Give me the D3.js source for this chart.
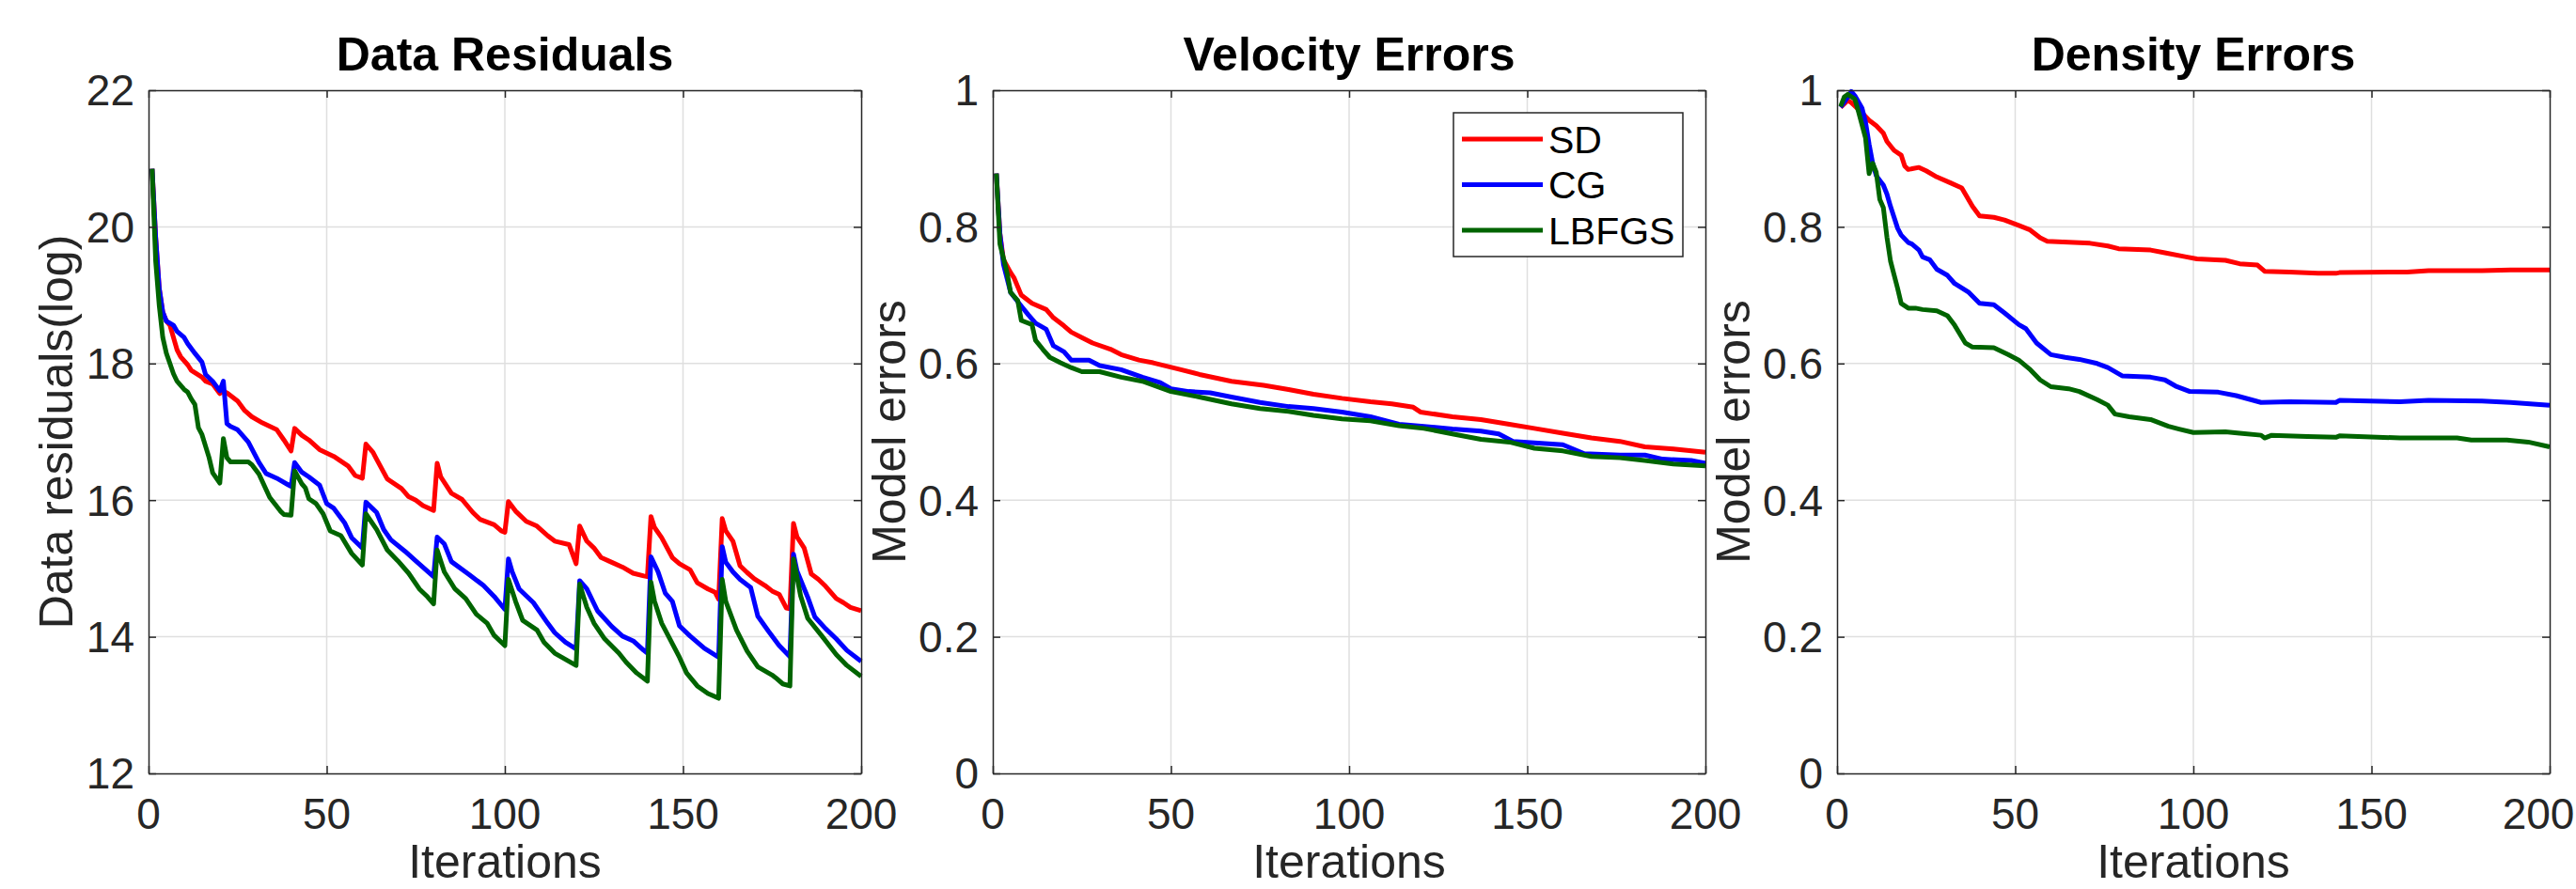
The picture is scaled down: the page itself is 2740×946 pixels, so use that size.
<!DOCTYPE html>
<html><head><meta charset="utf-8">
<script src="https://cdn.jsdelivr.net/npm/d3@7"></script>
<style>body{margin:0;background:#fff}svg{display:block}</style>
</head><body>
<svg id="chart" width="2740" height="946"></svg>
<script>
// ---------- DATA ----------
const seriesNames = ["SD", "CG", "LBFGS"];
const seriesColors = ["#ff0000", "#0000ff", "#006400"];
const panelTitles = ["Data Residuals", "Velocity Errors", "Density Errors"];
const yLabels = ["Data residuals(log)", "Model errors", "Model errors"];
const xLabel = "Iterations";
const xTicks = [0, 50, 100, 150, 200];
const xTickLabels = ["0", "50", "100", "150", "200"];
const resTicks = [12, 14, 16, 18, 20, 22];
const resTickLabels = ["12", "14", "16", "18", "20", "22"];
const errTicks = [0, 0.2, 0.4, 0.6, 0.8, 1];
const errTickLabels = ["0", "0.2", "0.4", "0.6", "0.8", "1"];

// Data residuals
const resSD_it = [1,2,3,4,5,6,8,9,11,12,15,16,18,19,20,21,22,25,27,29,32,36,38,40,41,43,45,48,52,56,58,60,61,63,64,67,71,73,75,77,80,81,82,85,88,91,93,97,99,100,101,103,106,109,112,114,118,120,121,123,125,127,130,133,136,139,140,141,142,144,147,149,152,154,157,159,160,161,162,164,166,168,170,173,175,177,179,180,181,182,184,186,188,190,193,195,197,200];
const resSD_val = [20.85,19.85,19.1,18.75,18.62,18.56,18.2,18.1,17.98,17.9,17.8,17.74,17.7,17.63,17.56,17.6,17.57,17.45,17.31,17.22,17.13,17.03,16.88,16.72,17.05,16.95,16.88,16.74,16.64,16.5,16.36,16.32,16.82,16.7,16.6,16.31,16.17,16.05,16.0,15.92,15.85,16.54,16.34,16.1,16.01,15.82,15.72,15.64,15.55,15.53,15.98,15.84,15.69,15.62,15.48,15.4,15.35,15.07,15.62,15.4,15.3,15.16,15.09,15.02,14.93,14.89,14.88,15.76,15.6,15.45,15.16,15.07,14.98,14.79,14.7,14.65,14.55,15.73,15.55,15.4,15.04,14.94,14.85,14.75,14.67,14.62,14.42,14.41,15.66,15.46,15.3,14.92,14.84,14.74,14.56,14.5,14.43,14.38];
const resCG_it = [1,2,3,4,5,7,8,10,11,13,15,16,18,20,21,22,23,25,28,31,33,36,39,40,41,43,45,48,50,52,55,57,60,61,63,64,66,68,72,75,80,81,83,85,90,94,97,100,101,102,104,108,112,114,117,120,121,123,126,130,133,136,139,140,141,143,145,147,149,152,156,160,161,162,164,166,169,171,174,177,180,181,182,185,187,190,193,196,200];
const resCG_val = [20.85,19.85,19.1,18.75,18.62,18.56,18.47,18.38,18.29,18.15,18.02,17.84,17.74,17.6,17.74,17.12,17.08,17.03,16.85,16.55,16.39,16.32,16.23,16.2,16.55,16.41,16.34,16.22,15.95,15.88,15.67,15.45,15.3,15.97,15.87,15.82,15.57,15.42,15.25,15.11,14.88,15.46,15.36,15.1,14.91,14.75,14.59,14.4,15.14,14.96,14.7,14.5,14.2,14.06,13.92,13.82,14.82,14.7,14.38,14.15,14.01,13.94,13.8,13.76,15.17,14.95,14.64,14.52,14.16,14.01,13.83,13.7,15.32,15.09,14.95,14.84,14.72,14.3,14.08,13.87,13.71,15.21,14.96,14.58,14.29,14.12,13.97,13.8,13.64];
const resLB_it = [1,2,3,4,5,7,8,10,11,12,13,14,15,17,18,20,21,22,23,28,29,31,34,37,38,40,41,43,44,45,47,49,51,54,57,60,61,64,67,70,73,76,78,80,81,83,86,89,92,95,97,100,101,103,105,109,111,114,117,120,121,123,125,128,132,134,137,140,141,142,144,146,149,151,154,157,160,161,162,165,168,171,175,176,178,180,181,183,185,189,193,196,200];
const resLB_val = [20.85,19.5,18.85,18.38,18.15,17.85,17.74,17.62,17.58,17.48,17.4,17.06,16.96,16.62,16.4,16.25,16.9,16.62,16.56,16.56,16.52,16.38,16.04,15.84,15.79,15.78,16.43,16.24,16.18,16.02,15.95,15.8,15.55,15.48,15.22,15.05,15.8,15.57,15.27,15.11,14.93,14.7,14.6,14.48,15.27,14.95,14.7,14.56,14.33,14.2,14.02,13.87,14.84,14.52,14.24,14.1,13.92,13.76,13.67,13.58,14.77,14.43,14.2,13.97,13.76,13.63,13.47,13.35,14.8,14.52,14.2,14.0,13.7,13.47,13.28,13.17,13.1,14.84,14.52,14.1,13.79,13.56,13.44,13.4,13.31,13.28,15.14,14.6,14.27,14.01,13.74,13.58,13.42];

// Velocity errors
const velSD_it = [1,2,3,5,6,8,11,15,17,20,22,25,28,33,36,41,45,52,58,67,76,83,90,98,106,112,118,120,129,137,145,152,160,168,176,183,191,200];
const velSD_val = [0.878,0.79,0.752,0.733,0.725,0.70,0.688,0.679,0.667,0.655,0.646,0.638,0.63,0.621,0.613,0.605,0.601,0.592,0.584,0.574,0.568,0.562,0.555,0.549,0.544,0.541,0.536,0.529,0.522,0.518,0.511,0.505,0.498,0.491,0.486,0.478,0.475,0.47];
const velCG_it = [1,2,3,5,8,10,12,15,17,20,22,27,30,36,42,47,50,55,61,67,75,83,90,98,106,114,121,129,137,142,146,152,160,166,176,183,188,196,200];
const velCG_val = [0.878,0.79,0.745,0.704,0.684,0.671,0.659,0.65,0.626,0.617,0.605,0.605,0.597,0.591,0.58,0.572,0.563,0.559,0.557,0.551,0.543,0.537,0.534,0.529,0.522,0.511,0.508,0.504,0.501,0.497,0.486,0.484,0.481,0.468,0.466,0.466,0.46,0.458,0.454];
const velLB_it = [1,2,4,5,7,8,11,12,14,16,19,22,25,30,36,42,50,58,67,75,83,90,98,106,114,121,129,137,145,152,160,168,176,183,191,200];
const velLB_val = [0.878,0.775,0.733,0.704,0.692,0.663,0.657,0.634,0.621,0.609,0.601,0.594,0.588,0.588,0.58,0.574,0.559,0.551,0.541,0.534,0.53,0.524,0.519,0.516,0.509,0.505,0.497,0.489,0.485,0.476,0.472,0.464,0.462,0.458,0.453,0.45];

// Density errors
const denSD_it = [1,3,4,7,9,11,13,14,16,18,19,20,23,25,28,32,35,36,38,40,44,47,51,54,57,59,71,76,79,88,92,98,101,109,113,118,120,127,135,140,141,160,166,181,189,200];
const denSD_val = [0.975,0.985,0.982,0.967,0.956,0.948,0.937,0.925,0.912,0.905,0.889,0.884,0.887,0.882,0.873,0.864,0.857,0.848,0.83,0.816,0.814,0.81,0.802,0.796,0.784,0.779,0.776,0.772,0.768,0.766,0.762,0.756,0.753,0.751,0.746,0.744,0.735,0.734,0.732,0.732,0.733,0.734,0.736,0.736,0.737,0.737];
const denCG_it = [1,3,4,5,7,8,9,10,11,13,14,15,17,18,20,21,23,24,26,28,31,33,37,40,44,47,51,53,56,60,64,68,73,76,80,88,92,95,99,107,112,119,127,140,141,158,166,181,189,200];
const denCG_val = [0.975,0.99,0.998,0.992,0.974,0.953,0.921,0.893,0.875,0.861,0.848,0.83,0.798,0.788,0.777,0.775,0.766,0.756,0.752,0.738,0.729,0.717,0.704,0.688,0.686,0.674,0.657,0.651,0.63,0.613,0.609,0.606,0.6,0.594,0.582,0.58,0.576,0.567,0.559,0.558,0.553,0.543,0.544,0.543,0.546,0.544,0.546,0.545,0.543,0.539];
const denLB_it = [1,2,3,5,6,8,9,10,11,12,13,14,15,16,17,18,20,22,24,28,31,33,36,38,44,48,51,54,57,60,65,68,73,76,78,82,88,93,96,100,109,113,119,120,122,132,140,141,158,174,178,188,194,200];
const denLB_val = [0.976,0.99,0.994,0.987,0.969,0.93,0.878,0.893,0.88,0.84,0.828,0.785,0.75,0.73,0.71,0.688,0.681,0.681,0.679,0.677,0.67,0.656,0.63,0.624,0.623,0.613,0.605,0.592,0.576,0.566,0.563,0.559,0.547,0.539,0.526,0.522,0.518,0.508,0.504,0.499,0.5,0.498,0.495,0.491,0.495,0.493,0.492,0.494,0.491,0.491,0.488,0.488,0.485,0.478];

// ---------- BUILD ----------
const zip = (it, val) => it.map((x, k) => ({x, y: val[k]}));
const panels = [
  {title: panelTitles[0], ylabel: yLabels[0], domain: [12, 22], ticks: resTicks, tickLabels: resTickLabels,
   series: [zip(resSD_it, resSD_val), zip(resCG_it, resCG_val), zip(resLB_it, resLB_val)], left: 158, ylabX: 77, legend: false},
  {title: panelTitles[1], ylabel: yLabels[1], domain: [0, 1], ticks: errTicks, tickLabels: errTickLabels,
   series: [zip(velSD_it, velSD_val), zip(velCG_it, velCG_val), zip(velLB_it, velLB_val)], left: 1056, ylabX: 963, legend: true},
  {title: panelTitles[2], ylabel: yLabels[2], domain: [0, 1], ticks: errTicks, tickLabels: errTickLabels,
   series: [zip(denSD_it, denSD_val), zip(denCG_it, denCG_val), zip(denLB_it, denLB_val)], left: 1954, ylabX: 1861, legend: false}
];

const CW = 2740;
const W = 758, H = 727, TOP = 96;
const FONT = "'Liberation Sans', Arial, Helvetica, sans-serif";
const AX = "#262626", GRID = "#dfdfdf";
const svg = d3.select("#chart");
svg.append("rect").attr("width", CW).attr("height", 946).attr("fill", "#fff");

panels.forEach(p => {
  const x = d3.scaleLinear().domain([0, 200]).range([p.left, p.left + W]);
  const y = d3.scaleLinear().domain(p.domain).range([TOP + H, TOP]);
  const g = svg.append("g");

  // grid
  g.append("g").selectAll("line").data(xTicks.slice(1, -1)).join("line")
    .attr("x1", d => x(d)).attr("x2", d => x(d)).attr("y1", TOP).attr("y2", TOP + H)
    .attr("stroke", GRID).attr("stroke-width", 1.5);
  g.append("g").selectAll("line").data(p.ticks.slice(1, -1)).join("line")
    .attr("y1", d => y(d)).attr("y2", d => y(d)).attr("x1", p.left).attr("x2", p.left + W)
    .attr("stroke", GRID).attr("stroke-width", 1.5);

  // lines
  const line = d3.line().x(d => x(d.x)).y(d => y(d.y));
  p.series.forEach((s, k) => {
    g.append("path").datum(s).attr("d", line).attr("fill", "none")
      .attr("stroke", seriesColors[k]).attr("stroke-width", 5)
      .attr("stroke-linejoin", "round").attr("stroke-linecap", "butt");
  });

  // axes with inward ticks on all sides
  const tl = 8;
  const axB = d3.axisBottom(x).tickValues(xTicks).tickSizeInner(-tl).tickSizeOuter(0).tickFormat("");
  const axT = d3.axisTop(x).tickValues(xTicks).tickSizeInner(-tl).tickSizeOuter(0).tickFormat("");
  const axL = d3.axisLeft(y).tickValues(p.ticks).tickSizeInner(-tl).tickSizeOuter(0).tickFormat("");
  const axR = d3.axisRight(y).tickValues(p.ticks).tickSizeInner(-tl).tickSizeOuter(0).tickFormat("");
  [[axB, `translate(0,${TOP + H})`], [axT, `translate(0,${TOP})`], [axL, `translate(${p.left},0)`], [axR, `translate(${p.left + W},0)`]]
    .forEach(([ax, tr]) => {
      const a = g.append("g").attr("transform", tr).call(ax);
      a.selectAll("path").attr("stroke", AX).attr("stroke-width", 1.5);
      a.selectAll("line").attr("stroke", AX).attr("stroke-width", 1.5);
    });

  // tick labels (keep the last one inside the canvas)
  g.append("g").selectAll("text").data(xTicks).join("text")
    .attr("x", d => Math.min(x(d), CW - 40)).attr("y", TOP + H + 59).attr("text-anchor", "middle")
    .attr("font-family", FONT).attr("font-size", 46).attr("fill", AX)
    .text((d, i) => xTickLabels[i]);
  g.append("g").selectAll("text").data(p.ticks).join("text")
    .attr("x", p.left - 15).attr("y", d => y(d)).attr("dy", "0.358em").attr("text-anchor", "end")
    .attr("font-family", FONT).attr("font-size", 46).attr("fill", AX)
    .text((d, i) => p.tickLabels[i]);

  // title
  g.append("text").attr("x", p.left + W / 2).attr("y", 75).attr("text-anchor", "middle")
    .attr("font-family", FONT).attr("font-size", 50).attr("font-weight", "bold").attr("fill", "#000")
    .text(p.title);
  // x label
  g.append("text").attr("x", p.left + W / 2).attr("y", 934).attr("text-anchor", "middle")
    .attr("font-family", FONT).attr("font-size", 50).attr("fill", AX).text(xLabel);
  // y label
  g.append("text").attr("transform", `translate(${p.ylabX},${TOP + H / 2}) rotate(-90)`)
    .attr("text-anchor", "middle").attr("font-family", FONT).attr("font-size", 50).attr("fill", AX)
    .text(p.ylabel);

  // legend
  if (p.legend) {
    const lx = 1546, ly = 120, lw = 244, lh = 153;
    const lg = g.append("g");
    lg.append("rect").attr("x", lx).attr("y", ly).attr("width", lw).attr("height", lh)
      .attr("fill", "#fff").attr("stroke", AX).attr("stroke-width", 1.5);
    const rows = [148, 196.5, 245];
    seriesNames.forEach((n, k) => {
      lg.append("line").attr("x1", 1555).attr("x2", 1641).attr("y1", rows[k]).attr("y2", rows[k])
        .attr("stroke", seriesColors[k]).attr("stroke-width", 5);
      lg.append("text").attr("x", 1647).attr("y", rows[k]).attr("dy", "0.36em")
        .attr("font-family", FONT).attr("font-size", 41).attr("fill", "#000").text(n);
    });
  }
});
</script>
</body></html>
